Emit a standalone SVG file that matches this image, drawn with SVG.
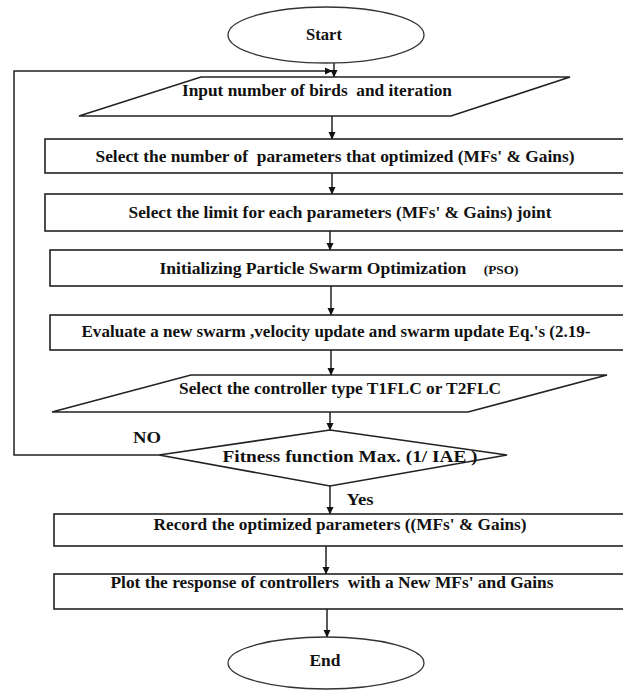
<svg xmlns="http://www.w3.org/2000/svg" width="623" height="691" viewBox="0 0 623 691">
<style>
.s{fill:#fff;stroke:#222;stroke-width:1.6}
.e{fill:#fff;stroke:#333;stroke-width:1.3}
.c{fill:none;stroke:#222;stroke-width:1.5}
.t{font-family:'Liberation Serif','Times New Roman','DejaVu Serif',serif;font-weight:700;font-size:16.5px;fill:#111;text-anchor:middle}
</style>
<defs>
<marker id="ah" markerWidth="8" markerHeight="8" refX="7" refY="4" orient="auto" markerUnits="userSpaceOnUse">
<path d="M0,0.5 L7.5,4 L0,7.5 Z" fill="#111"/>
</marker>
</defs>
<rect width="623" height="691" fill="#fff"/>
<g id="connectors">
<line class="c" x1="334" y1="63" x2="334" y2="77" marker-end="url(#ah)"/>
<polyline class="c" points="159,455 14,455 14,71 332,71" marker-end="url(#ah)"/>
<line class="c" x1="332" y1="116" x2="332" y2="139" marker-end="url(#ah)"/>
<line class="c" x1="332" y1="173" x2="332" y2="194" marker-end="url(#ah)"/>
<line class="c" x1="330" y1="231" x2="330" y2="250" marker-end="url(#ah)"/>
<line class="c" x1="331" y1="286" x2="331" y2="315" marker-end="url(#ah)"/>
<line class="c" x1="331" y1="350" x2="331" y2="375" marker-end="url(#ah)"/>
<line class="c" x1="330" y1="412" x2="330" y2="430" marker-end="url(#ah)"/>
<line class="c" x1="330" y1="486" x2="330" y2="514" marker-end="url(#ah)"/>
<line class="c" x1="326" y1="546" x2="326" y2="574" marker-end="url(#ah)"/>
<line class="c" x1="327" y1="609" x2="327" y2="637" marker-end="url(#ah)"/>
</g>
<g id="start">
<ellipse class="e" cx="326" cy="35" rx="98" ry="28"/>
<text class="t" x="324" y="40" textLength="36" lengthAdjust="spacingAndGlyphs">Start</text>
</g>
<g id="input">
<polygon class="s" points="201,77 570,77 451,116 79,116"/>
<text class="t" x="317" y="96" xml:space="preserve" textLength="270" lengthAdjust="spacingAndGlyphs">Input number of birds  and iteration</text>
</g>
<g id="select-number">
<rect class="s" x="45" y="139" width="600" height="34"/>
<text class="t" x="335" y="162" xml:space="preserve" textLength="479" lengthAdjust="spacingAndGlyphs">Select the number of  parameters that optimized (MFs' &amp; Gains)</text>
</g>
<g id="select-limit">
<rect class="s" x="45" y="194" width="600" height="37"/>
<text class="t" x="340" y="218" textLength="423" lengthAdjust="spacingAndGlyphs">Select the limit for each parameters (MFs' &amp; Gains) joint</text>
</g>
<g id="init-pso">
<rect class="s" x="50" y="250" width="600" height="36"/>
<text class="t" x="339" y="274" xml:space="preserve" textLength="359" lengthAdjust="spacingAndGlyphs">Initializing Particle Swarm Optimization    <tspan font-size="12.5">(PSO)</tspan></text>
</g>
<g id="evaluate">
<rect class="s" x="50" y="315" width="600" height="35"/>
<text class="t" x="336" y="337" textLength="509" lengthAdjust="spacingAndGlyphs">Evaluate a new swarm ,velocity update and swarm update Eq.'s (2.19-</text>
</g>
<g id="controller">
<polygon class="s" points="191,375 607,375 468,412 52,412"/>
<text class="t" x="340" y="394" textLength="322" lengthAdjust="spacingAndGlyphs">Select the controller type T1FLC or T2FLC</text>
</g>
<g id="fitness">
<polygon class="s" points="330,430 507,455 330,486 159,455"/>
<text class="t" x="350" y="462" xml:space="preserve" textLength="255" lengthAdjust="spacingAndGlyphs">Fitness function Max. (1/ IAE )</text>
<text class="t" x="147" y="443" textLength="28" lengthAdjust="spacingAndGlyphs">NO</text>
<text class="t" x="360" y="505" textLength="27" lengthAdjust="spacingAndGlyphs">Yes</text>
</g>
<g id="record">
<rect class="s" x="54" y="514" width="600" height="32"/>
<text class="t" x="340" y="530" textLength="373" lengthAdjust="spacingAndGlyphs">Record the optimized parameters ((MFs' &amp; Gains)</text>
</g>
<g id="plot">
<rect class="s" x="54" y="574" width="600" height="35"/>
<text class="t" x="332" y="588" xml:space="preserve" textLength="443" lengthAdjust="spacingAndGlyphs">Plot the response of controllers  with a New MFs' and Gains</text>
</g>
<g id="end">
<ellipse class="e" cx="326" cy="663" rx="98" ry="26"/>
<text class="t" x="325" y="666" textLength="31" lengthAdjust="spacingAndGlyphs">End</text>
</g>
</svg>
